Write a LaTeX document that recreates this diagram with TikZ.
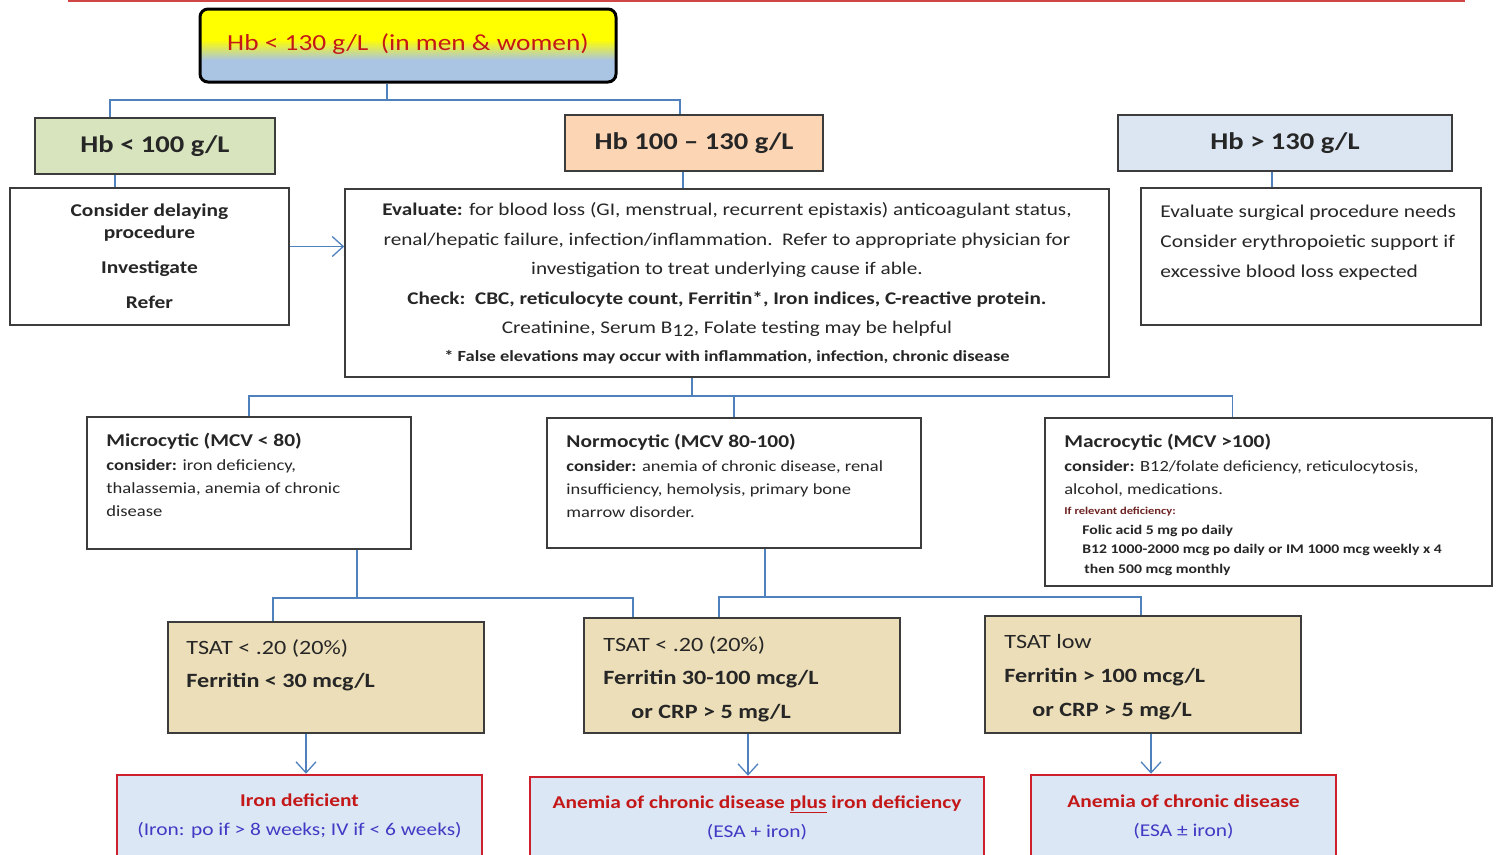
\documentclass[tikz,border=0pt]{standalone}
\usepackage{fontspec}
\setmainfont{Carlito}[FakeStretch=1.19]
\usetikzlibrary{positioning}
\usetikzlibrary{arrows.meta}

\definecolor{linkblue}{RGB}{79,129,189}
\definecolor{edgegrey}{RGB}{60,60,60}
\definecolor{txtgrey}{RGB}{38,38,38}
\definecolor{hbred}{RGB}{196,24,24}
\definecolor{notered}{RGB}{110,35,35}
\definecolor{lowgreen}{RGB}{215,228,189}
\definecolor{midpeach}{RGB}{252,213,181}
\definecolor{highblue}{RGB}{220,230,242}
\definecolor{topblue}{RGB}{170,196,228}
\definecolor{tsattan}{RGB}{236,222,184}
\definecolor{resblue}{RGB}{219,231,245}
\definecolor{resred}{RGB}{204,32,44}
\definecolor{restxt}{RGB}{64,58,196}

\pgfdeclareverticalshading{hbshade}{100bp}{color(0bp)=(topblue); color(40bp)=(topblue); color(54bp)=(yellow); color(100bp)=(yellow)}

\tikzset{
  conn/.style={linkblue, line width=1.3pt},
  arr/.style={conn, -{Straight Barb[length=11pt, width=20pt]}},
  topbox/.style={draw=black, line width=3pt, rounded corners=8pt, shading=hbshade,
    minimum width=416, minimum height=73, text=hbred, font=\fontsize{23}{28}\selectfont},
  hbbox/.style={draw=edgegrey, line width=1.6pt, minimum height=56, text=txtgrey,
    font=\fontsize{24}{28}\selectfont\bfseries},
  plainbox/.style={draw=edgegrey, line width=1.6pt, fill=white, text=txtgrey, inner sep=0pt},
  tsatbox/.style={plainbox, fill=tsattan, minimum width=316},
  resbox/.style={draw=resred, line width=2.5pt, fill=resblue, align=center,
    font=\fontsize{18}{29}\selectfont},
  boxtext/.style={inner sep=0pt, align=left, text=txtgrey}
}

\begin{document}
\begin{tikzpicture}[x=1pt, y=-1pt]%
\clip (0,0) rectangle (1499,854);

\draw [hbred!80!white, line width=2pt] (68,1) -- (1465,1);

\node [topbox] (hb-all) at (408,45.5) {\raisebox{6pt}{Hb < 130 g/L\ \ (in men \& women)}};

\foreach \m/\x/\y/\w/\c/\l in {low/155/146/240/lowgreen/{Hb < 100 g/L},
    mid/694/143/258/midpeach/{Hb 100 – 130 g/L},
    high/1285/143/334/highblue/{Hb > 130 g/L}}
  \node [hbbox, fill=\c, minimum width=\w] (hb-\m) at (\x,\y) {\l};

\node [plainbox, minimum width=279, minimum height=137, align=center,
  font=\fontsize{18}{22}\selectfont\bfseries] (delay) at (149.5,256.5)
  {Consider delaying\\procedure\\[13pt]Investigate\\[13pt]Refer};

\node [plainbox, minimum width=764, minimum height=188, align=center,
  font=\fontsize{17.8}{29.5}\selectfont] (evaluate) at (727,283)
  {\textbf{Evaluate:} for blood loss (GI, menstrual, recurrent epistaxis) anticoagulant status,\\
   renal/hepatic failure, infection/inflammation.\ \ Refer to appropriate physician for\\
   investigation to treat underlying cause if able.\\
   \textbf{Check:\ \ CBC, reticulocyte count, Ferritin*, Iron indices, C-reactive protein.}\\
   Creatinine, Serum B\raisebox{-3pt}{12}, Folate testing may be helpful\\[-2pt]
   {\fontsize{15.5}{29.5}\selectfont\bfseries * False elevations may occur with inflammation, infection, chronic disease}};

\node [plainbox, minimum width=340, minimum height=137] (surg) at (1311,256.5) {};
\node [boxtext, font=\fontsize{18}{30}\selectfont, below right=18pt and 20pt of surg.north west] (surg-text)
  {Evaluate surgical procedure needs\\Consider erythropoietic support if\\excessive blood loss expected};

% MCV boxes
\node [plainbox, minimum width=324, minimum height=132] (micro) at (249,483) {};
\node [plainbox, minimum width=374, minimum height=130] (normo) at (734,483) {};
\node [plainbox, minimum width=447, minimum height=168] (macro) at (1268.5,502) {};

\node [boxtext, font=\fontsize{15.6}{23}\selectfont, below right=17pt and 20pt of micro.north west] (micro-text)
  {{\fontsize{18}{23}\selectfont\bfseries Microcytic (MCV < 80)}\\[1pt]
   \textbf{consider:} iron deficiency,\\thalassemia, anemia of chronic\\disease};
\node [boxtext, font=\fontsize{15.5}{23}\selectfont, below right=17pt and 20pt of normo.north west] (normo-text)
  {{\fontsize{18}{23}\selectfont\bfseries Normocytic (MCV 80-100)}\\[1pt]
   \textbf{consider:} anemia of chronic disease, renal\\insufficiency, hemolysis, primary bone\\marrow disorder.};
\node [boxtext, font=\fontsize{15.5}{23}\selectfont, below right=17pt and 20pt of macro.north west] (macro-text)
  {{\fontsize{18}{23}\selectfont\bfseries Macrocytic (MCV >100)}\\[1pt]
   \textbf{consider:} B12/folate deficiency, reticulocytosis,\\alcohol, medications.};
\node [boxtext, font=\fontsize{13.2}{19.5}\selectfont\bfseries, below right=90pt and 20pt of macro.north west] (macro-note)
  {\textcolor{notered}{\fontsize{10.5}{19.5}\selectfont If relevant deficiency:}\\
   \hspace*{18pt}Folic acid 5 mg po daily\\
   \hspace*{18pt}B12 1000-2000 mcg po daily or IM 1000 mcg weekly x 4\\
   \hspace*{20pt}then 500 mcg monthly};

% iron studies
\foreach \x/\y/\h [count=\i] in {326/677.5/111, 742/675.5/115, 1143/674.5/117}
  \node [tsatbox, minimum height=\h] (tsat-\i) at (\x,\y) {};

\node [boxtext, font=\fontsize{20.3}{33}\selectfont, below right=18pt and 19pt of tsat-1.north west] (tsat-1-text)
  {TSAT < .20 (20\%)\\\textbf{Ferritin < 30 mcg/L}};
\node [boxtext, font=\fontsize{20.3}{33.5}\selectfont, below right=19pt and 20pt of tsat-2.north west] (tsat-2-text)
  {TSAT < .20 (20\%)\\\textbf{Ferritin 30-100 mcg/L}\\\hspace*{28pt}\textbf{or CRP > 5 mg/L}};
\node [boxtext, font=\fontsize{20.3}{34}\selectfont, below right=19pt and 20pt of tsat-3.north west] (tsat-3-text)
  {TSAT low\\\textbf{Ferritin > 100 mcg/L}\\\hspace*{28pt}\textbf{or CRP > 5 mg/L}};

% diagnoses
\node [resbox, minimum width=365, minimum height=83] (res-1) at (299.5,816.5)
  {\textcolor{hbred}{\textbf{Iron deficient}}\\\textcolor{restxt}{(Iron: po if > 8 weeks; IV if < 6 weeks)}};
\node [resbox, minimum width=454, minimum height=81] (res-2) at (757,817.5)
  {\textcolor{hbred}{\textbf{Anemia of chronic disease \underline{plus} iron deficiency}}\\\textcolor{restxt}{(ESA + iron)}};
\node [resbox, minimum width=305, minimum height=83] (res-3) at (1183.5,816.5)
  {\textcolor{hbred}{\textbf{Anemia of chronic disease}}\\\textcolor{restxt}{(ESA ± iron)}};

% connectors
\coordinate (split-top) at (387,100);
\coordinate (split-eval) at (692,396);
\coordinate (split-micro) at (357,598);
\coordinate (split-normo) at (765,597);

\draw [conn] (split-top |- hb-all.south) -- (split-top);
\draw [conn] ([xshift=-45pt]hb-low.north) |- ([xshift=-14pt]hb-mid.north |- split-top)
  -- ([xshift=-14pt]hb-mid.north);

\draw [conn] ([xshift=-40pt]hb-low.south) -- ([xshift=-40pt]hb-low.south |- delay.north);
\draw [conn] ([xshift=-11pt]hb-mid.south) -- ([xshift=-11pt]hb-mid.south |- evaluate.north);
\draw [conn] ([xshift=-13pt]hb-high.south) -- ([xshift=-13pt]hb-high.south |- surg.north);
\draw [arr] ([yshift=10pt]delay.east) -- ([yshift=10pt]delay.east -| evaluate.west);

\draw [conn] (split-eval |- evaluate.south) -- (split-eval);
\draw [conn] (micro.north) |- ([xshift=-36pt]macro.north |- split-eval) -- ([xshift=-36pt]macro.north);
\draw [conn] (normo.north) -- (normo.north |- split-eval);

\draw [conn] (split-micro |- micro.south) -- (split-micro);
\draw [conn] ([xshift=-53pt]tsat-1.north) |- ([xshift=-109pt]tsat-2.north |- split-micro)
  -- ([xshift=-109pt]tsat-2.north);
\draw [conn] (split-normo |- normo.south) -- (split-normo);
\draw [conn] ([xshift=-23pt]tsat-2.north) |- ([xshift=-2pt]tsat-3.north |- split-normo)
  -- ([xshift=-2pt]tsat-3.north);

\foreach \i/\s in {1/-20, 2/6, 3/8}
  \draw [arr] ([xshift=\s pt]tsat-\i.south) -- ([xshift=\s pt]tsat-\i.south |- res-\i.north);

\end{tikzpicture}
\end{document}
